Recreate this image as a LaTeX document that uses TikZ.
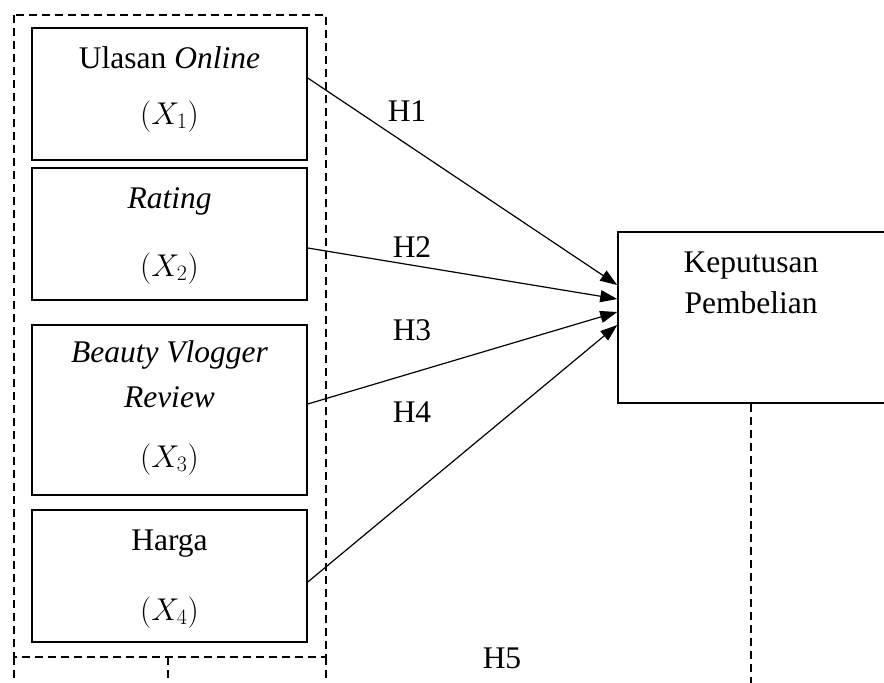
\RequirePackage{fix-cm}
\documentclass[tikz,border=0pt]{standalone}
\usepackage{fontspec}
\setmainfont{Liberation Serif}
\usetikzlibrary{arrows.meta}
\tikzset{
  varbox/.style={draw,line width=1.5pt,minimum width=275pt,inner sep=0pt},
  txt/.style={anchor=base,inner sep=0pt,font=\fontsize{31.5}{38}\selectfont},
  hyp/.style={-{Triangle[length=17pt,width=12pt]},line width=1.2pt},
  grp/.style={dash pattern=on 8pt off 5pt,line width=1.2pt}
}
\begin{document}
\begin{tikzpicture}[x=1pt,y=-1pt]
\useasboundingbox (0,0) rectangle (884,683);
% variables
\node[varbox,minimum height=132pt] (b1) at (169.5,94) {};
\node[varbox,minimum height=132pt] (b2) at (169.5,234) {};
\node[varbox,minimum height=170pt] (b3) at (169.5,410) {};
\node[varbox,minimum height=132pt] (b4) at (169.5,576) {};
\node[draw,line width=1.5pt,minimum width=272pt,minimum height=171pt,inner sep=0pt] (kp) at (754,317.5) {};
\node[txt] (t1) at (169.5,68) {Ulasan \textit{Online}};
\node[txt] (x1) at (169.5,124) {$(X_1)$};
\node[txt] (t2) at (169.5,208) {\textit{Rating}};
\node[txt] (x2) at (169.5,276) {$(X_2)$};
\node[txt] (t3) at (169.5,362) {\textit{Beauty Vlogger}};
\node[txt] (t3b) at (169.5,407) {\textit{Review}};
\node[txt] (x3) at (169.5,467) {$(X_3)$};
\node[txt] (t4) at (169.5,550) {Harga};
\node[txt] (x4) at (169.5,620) {$(X_4)$};
\node[txt] (kp1) at (751,272) {Keputusan};
\node[txt] (kp2) at (751,313) {Pembelian};
% dashed group
\draw[grp] (14,15) rectangle (326,657);
\coordinate (g1) at (14,690);
\coordinate (g2) at (168,657);
\coordinate (g3) at (168,690);
\coordinate (g4) at (326,690);
\draw[grp] (14,657) -- (g1);
\draw[grp] (g2) -- (g3);
\draw[grp] (326,657) -- (g4);
\coordinate (k0) at (751,690);
\draw[grp] (kp.south -| k0) -- (k0);
% hypotheses
\draw[hyp] ([yshift=16pt]b1.east) -- ([yshift=32.5pt]kp.west);
\draw[hyp] ([yshift=-14pt]b2.east) -- ([yshift=18.5pt]kp.west);
\draw[hyp] ([yshift=6pt]b3.east) -- ([yshift=5.5pt]kp.west);
\draw[hyp] ([yshift=-6pt]b4.east) -- ([yshift=-7.5pt]kp.west);
\node[txt] (h1) at (407,121) {H1};
\node[txt] (h2) at (412,257) {H2};
\node[txt] (h3) at (412,340) {H3};
\node[txt] (h4) at (412,422) {H4};
\node[txt] (h5) at (502,668) {H5};
\end{tikzpicture}
\end{document}
